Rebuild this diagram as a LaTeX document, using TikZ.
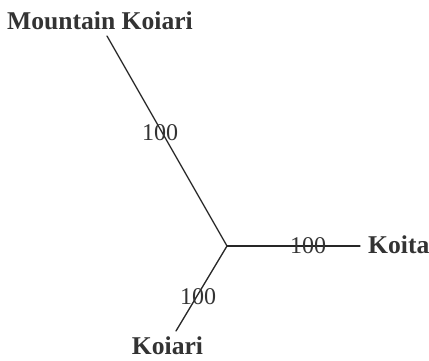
\documentclass[tikz,border=0pt]{standalone}
\usepackage{fontspec}
\setmainfont{Liberation Serif}
\usepackage{xcolor}

\tikzset{
	branch/.style={draw=black!85, line width=1.3pt},
	taxon/.style={inner sep=0pt, font=\fontsize{25.6}{30}\selectfont\bfseries, text=black!80},
	support/.style={inner sep=0pt, font=\fontsize{24}{28}\selectfont, text=black!80}
}

\begin{document}
\begin{tikzpicture}[x=1pt, y=1pt, line cap=round, line join=round]
		
		% Frame of the page
		\useasboundingbox (0,0) rectangle (429,360);
		
		% Hub and branch tips
		\coordinate (hub) at (227,114);
		\coordinate (tipMK) at (107,324);
		\coordinate (tipKoita) at (360,114);
		\coordinate (tipKoiari) at (176,29);
		
		% Branches
		\draw[branch] (hub) -- (tipMK);
		\draw[branch] (hub) -- (tipKoita);
		\draw[branch] (hub) -- (tipKoiari);
		
		% Taxa
		\node[taxon, anchor=base] (mk) at (100,331) {Mountain Koiari};
		\node[taxon, anchor=base west] (koita) at (368,107) {Koita};
		\node[taxon, anchor=base] (koiari) at (167.5,6) {Koiari};
		
		% Support values
		\node[support] (bMK) at (160,227) {100};
		\node[support] (bKoita) at (308,114) {100};
		\node[support] (bKoiari) at (198,63) {100};
		
	\end{tikzpicture}
\end{document}
